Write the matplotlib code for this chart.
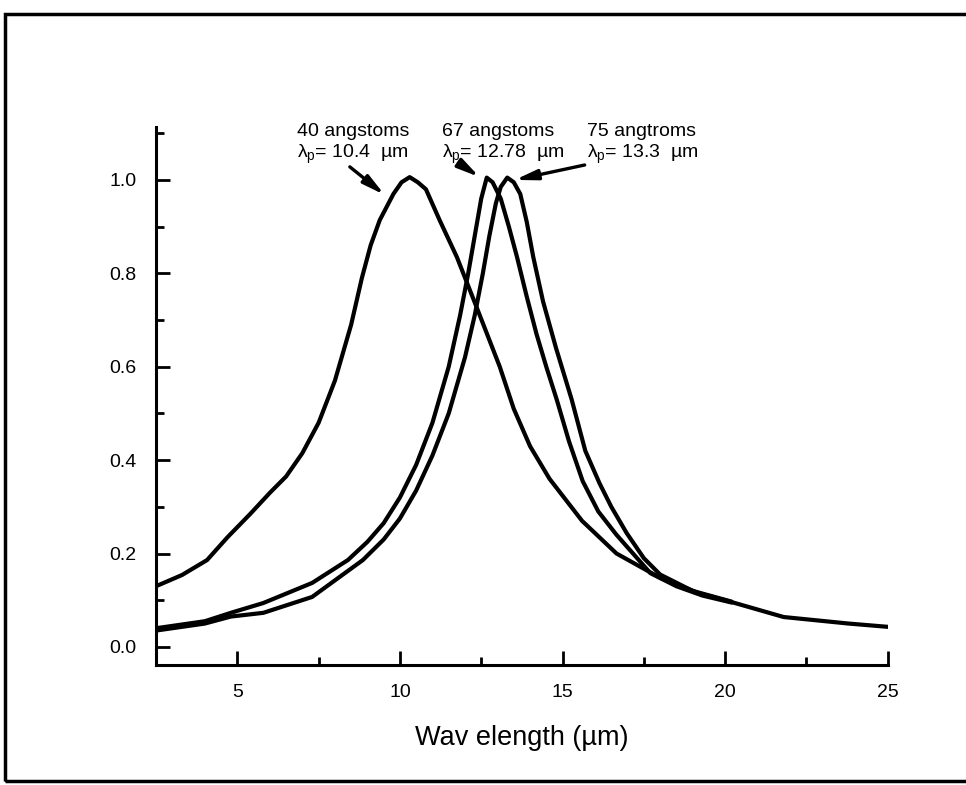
import numpy as np
import matplotlib.pyplot as plt
from matplotlib.patches import Rectangle
from matplotlib.ticker import MultipleLocator

plt.rcParams['font.family'] = ['Liberation Sans', 'DejaVu Sans']
plt.rcParams['mathtext.fontset'] = 'custom'
plt.rcParams['mathtext.rm'] = 'Liberation Sans'
plt.rcParams['mathtext.it'] = 'Liberation Sans'

# normalized responsivity vs wavelength for three well widths
wl_40 = [2.5, 3.3, 4.07, 4.7, 5.4, 6.0, 6.5, 7.0, 7.5, 8.0, 8.5, 8.83, 9.1,
         9.38, 9.8, 10.05, 10.3, 10.55, 10.8, 11.22, 11.75, 12.4, 13.07,
         13.5, 14.0, 14.6, 15.6, 16.66, 18.0, 19.2, 20.2, 21.8, 23.8, 25.0]
resp_40 = [0.13, 0.154, 0.186, 0.235, 0.285, 0.33, 0.365, 0.415, 0.48, 0.57,
           0.69, 0.79, 0.86, 0.914, 0.97, 0.995, 1.006, 0.995, 0.98, 0.914,
           0.835, 0.72, 0.60, 0.51, 0.43, 0.36, 0.27, 0.20, 0.148, 0.115,
           0.096, 0.064, 0.05, 0.043]

wl_67 = [2.5, 4.0, 4.8, 5.8, 7.3, 8.4, 9.0, 9.5, 10.0, 10.5, 11.0, 11.5,
         11.85, 12.1, 12.3, 12.5, 12.67, 12.85, 13.1, 13.35, 13.6, 13.9, 14.2,
         14.5, 14.82, 15.2, 15.62, 16.1, 16.66, 17.7, 18.5, 19.3, 20.2]
resp_67 = [0.04, 0.055, 0.073, 0.094, 0.137, 0.186, 0.225, 0.265, 0.32, 0.39,
           0.48, 0.60, 0.71, 0.80, 0.88, 0.96, 1.005, 0.995, 0.96, 0.90,
           0.835, 0.75, 0.67, 0.60, 0.53, 0.44, 0.355, 0.29, 0.24, 0.158,
           0.13, 0.11, 0.095]

wl_75 = [2.5, 4.0, 4.8, 5.8, 7.3, 8.86, 9.5, 10.0, 10.5, 11.0, 11.5, 12.0,
         12.3, 12.55, 12.75, 12.95, 13.1, 13.3, 13.5, 13.7, 13.9, 14.1,
         14.4, 14.8, 15.28, 15.7, 16.14, 16.5, 16.97, 17.5, 18.0, 19.0, 20.2]
resp_75 = [0.035, 0.05, 0.065, 0.073, 0.107, 0.186, 0.23, 0.275, 0.335,
           0.41, 0.50, 0.62, 0.71, 0.80, 0.88, 0.95, 0.985, 1.005, 0.995,
           0.97, 0.91, 0.835, 0.74, 0.64, 0.53, 0.42, 0.35, 0.30, 0.244,
           0.19, 0.155, 0.12, 0.097]

labels = ['40 angstoms', '67 angstoms', '75 angtroms']
peaks = ['10.4  µm', '12.78  µm', '13.3  µm']
arrow_tail = [(8.46, 1.028), (11.9, 1.032), (15.68, 1.032)]
arrow_head = [(9.53, 0.968), (12.45, 1.006), (13.53, 1.0)]

fig = plt.figure(figsize=(9.66, 7.85), dpi=100)
ax = fig.add_axes([0.1615, 0.153, 0.919 - 0.1615, 0.838 - 0.153])

for wl, r in [(wl_40, resp_40), (wl_67, resp_67), (wl_75, resp_75)]:
    ax.plot(wl, r, color='black', lw=3.0, solid_capstyle='round',
            solid_joinstyle='round')

ax.set_xlim(2.5, 25)
ax.set_ylim(-0.0385, 1.113)
ax.xaxis.set_minor_locator(MultipleLocator(2.5))
ax.yaxis.set_minor_locator(MultipleLocator(0.1))
ax.set_xticks([5, 10, 15, 20, 25])
ax.set_yticks([0.0, 0.2, 0.4, 0.6, 0.8, 1.0])
ax.set_yticklabels(['0.0', '0.2', '0.4', '0.6', '0.8', '1.0'])

for side in ['top', 'right']:
    ax.spines[side].set_visible(False)
for side in ['left', 'bottom']:
    ax.spines[side].set_linewidth(2.2)

ax.tick_params(which='major', direction='in', length=10, width=2, labelsize=14)
ax.tick_params(which='minor', direction='in', length=6, width=2)
ax.tick_params(axis='y', pad=14)
ax.tick_params(axis='x', pad=14)

ax.set_xlabel('Wav elength (µm)', fontsize=19.5, labelpad=17)

text_x = [297, 442, 587]
for lab, pk, tx in zip(labels, peaks, text_x):
    fig.text(tx / 966, 1 - 131 / 785, lab, fontsize=14, va='center', ha='left')
    fig.text(tx / 966, 1 - 154 / 785, r'$\lambda_\mathrm{p}$= ' + pk, fontsize=14,
             va='center', ha='left')

for tail, head in zip(arrow_tail, arrow_head):
    ax.annotate('', xy=head, xytext=tail, annotation_clip=False,
                arrowprops=dict(arrowstyle='-|>,head_length=1.3,head_width=0.3',
                                color='black', lw=2.4, shrinkA=0, shrinkB=0))

# outer frame around the figure
fig.add_artist(Rectangle((5 / 966, 4 / 785), 1.2, 1 - 18 / 785,
                         transform=fig.transFigure, fill=False,
                         edgecolor='black', lw=2.5))

fig.savefig('out.png', dpi=100)
